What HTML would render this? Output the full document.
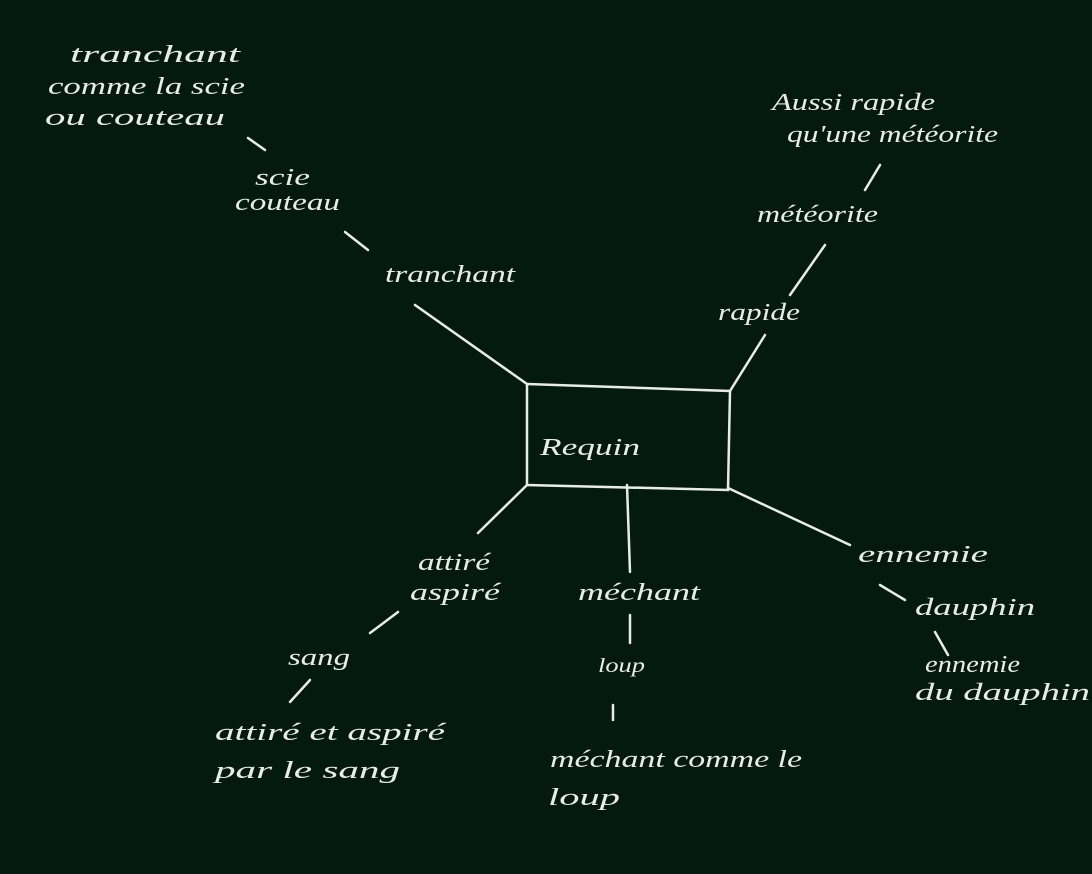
<!DOCTYPE html>
<html><head><meta charset="utf-8"><style>
html,body{margin:0;padding:0;background:#041a10;}
svg{display:block}
text{font-family:"Liberation Serif",serif;font-style:italic;fill:#e8ece8;font-size:24px}
line,polyline{stroke:#e8ece8;stroke-width:2.5;fill:none;stroke-linecap:round}
</style></head><body>
<svg width="1092" height="874" viewBox="0 0 1092 874">
<rect x="0" y="0" width="1092" height="874" fill="#041a10"/>
<polyline points="527,384 730,391 728,490 527,485 527,384"/>
<text x="540" y="455" textLength="100" lengthAdjust="spacingAndGlyphs">Requin</text>
<line x1="527" y1="384" x2="415" y2="305"/>
<text x="385" y="282" textLength="130" lengthAdjust="spacingAndGlyphs">tranchant</text>
<line x1="368" y1="250" x2="345" y2="232"/>
<text x="255" y="185" textLength="55" lengthAdjust="spacingAndGlyphs">scie</text>
<text x="235" y="210" textLength="105" lengthAdjust="spacingAndGlyphs">couteau</text>
<line x1="265" y1="150" x2="248" y2="138"/>
<text x="70" y="62" textLength="170" lengthAdjust="spacingAndGlyphs">tranchant</text>
<text x="48" y="94" textLength="197" lengthAdjust="spacingAndGlyphs">comme la scie</text>
<text x="45" y="125" textLength="180" lengthAdjust="spacingAndGlyphs">ou couteau</text>
<line x1="730" y1="391" x2="765" y2="335"/>
<text x="718" y="320" textLength="82" lengthAdjust="spacingAndGlyphs">rapide</text>
<line x1="790" y1="295" x2="825" y2="245"/>
<text x="757" y="222" textLength="121" lengthAdjust="spacingAndGlyphs">météorite</text>
<line x1="865" y1="190" x2="880" y2="165"/>
<text x="772" y="110" textLength="163" lengthAdjust="spacingAndGlyphs">Aussi rapide</text>
<text x="787" y="142" textLength="211" lengthAdjust="spacingAndGlyphs">qu'une météorite</text>
<line x1="728" y1="488" x2="850" y2="545"/>
<text x="858" y="562" textLength="130" lengthAdjust="spacingAndGlyphs">ennemie</text>
<line x1="880" y1="585" x2="905" y2="600"/>
<text x="915" y="615" textLength="120" lengthAdjust="spacingAndGlyphs">dauphin</text>
<line x1="935" y1="632" x2="948" y2="655"/>
<text x="925" y="672" textLength="95" lengthAdjust="spacingAndGlyphs">ennemie</text>
<text x="915" y="700" textLength="175" lengthAdjust="spacingAndGlyphs">du dauphin</text>
<line x1="627" y1="485" x2="630" y2="572"/>
<text x="578" y="600" textLength="122" lengthAdjust="spacingAndGlyphs">méchant</text>
<line x1="630" y1="615" x2="630" y2="643"/>
<text x="598" y="672" textLength="47" lengthAdjust="spacingAndGlyphs" style="font-size:20px">loup</text>
<line x1="613" y1="705" x2="613" y2="720"/>
<text x="550" y="767" textLength="252" lengthAdjust="spacingAndGlyphs">méchant comme le</text>
<text x="548" y="805" textLength="72" lengthAdjust="spacingAndGlyphs">loup</text>
<line x1="527" y1="485" x2="478" y2="533"/>
<text x="418" y="570" textLength="72" lengthAdjust="spacingAndGlyphs">attiré</text>
<text x="410" y="600" textLength="90" lengthAdjust="spacingAndGlyphs">aspiré</text>
<line x1="398" y1="612" x2="370" y2="633"/>
<text x="288" y="665" textLength="62" lengthAdjust="spacingAndGlyphs">sang</text>
<line x1="310" y1="680" x2="290" y2="702"/>
<text x="215" y="740" textLength="230" lengthAdjust="spacingAndGlyphs">attiré et aspiré</text>
<text x="215" y="778" textLength="185" lengthAdjust="spacingAndGlyphs">par le sang</text>
</svg>
</body></html>
